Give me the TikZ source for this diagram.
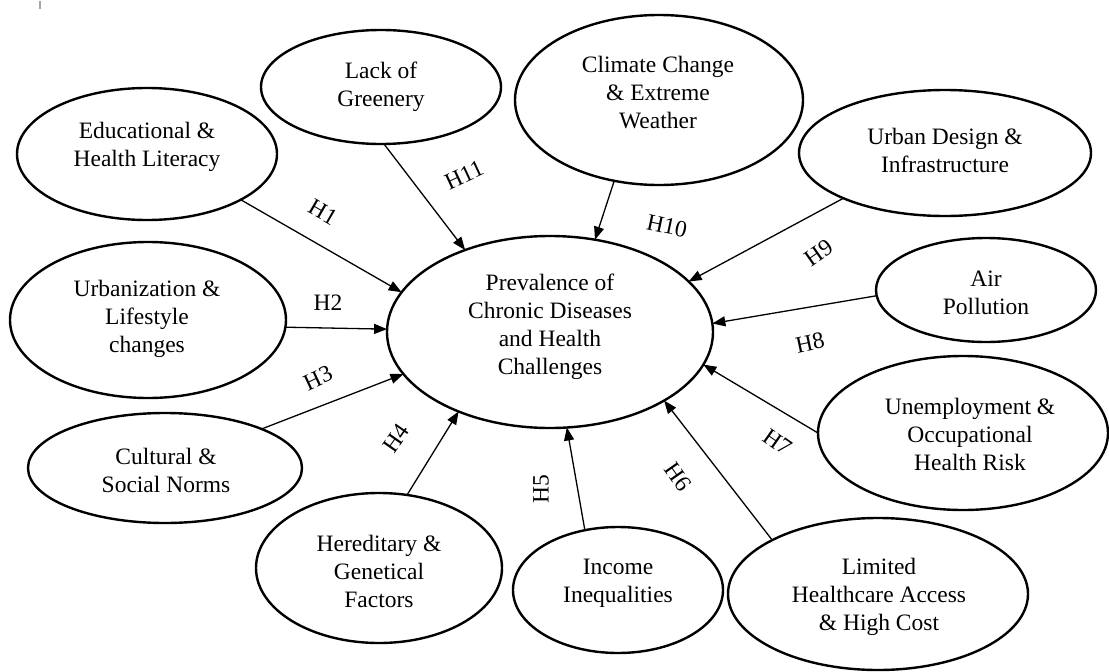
\documentclass[tikz,border=0pt]{standalone}
\usepackage{fontspec}
\setmainfont{Liberation Serif}
\usetikzlibrary{shapes.geometric,arrows.meta}
\newcommand{\mysz}{\fontsize{23.5}{28}\selectfont}
\begin{document}
\begin{tikzpicture}[x=1pt,y=-1pt,
  ell/.style={draw, ellipse, line width=2.4pt, inner sep=0pt, outer sep=0pt},
  txt/.style={align=center, font=\mysz, inner sep=0pt},
  arr/.style={line width=1.3pt, -{Triangle[length=13pt,width=10pt]}},
  hl/.style={font=\mysz, inner sep=0pt}]
\useasboundingbox (0,0) rectangle (1109,672);
\fill[white] (0,0) rectangle (1109,672);
\draw[gray!70, line width=1.2pt] (40,1) -- (40,9);

% ellipses
\node[ell, minimum width=260, minimum height=132] (edu) at (147,154) {};
\node[ell, minimum width=240, minimum height=114] (lack) at (381,87) {};
\node[ell, minimum width=276, minimum height=156] (urb) at (148,320) {};
\node[ell, minimum width=274, minimum height=110] (cul) at (165,468) {};
\node[ell, minimum width=246, minimum height=150] (her) at (379,568) {};
\node[ell, minimum width=210, minimum height=126] (inc) at (618,590) {};
\node[ell, minimum width=300, minimum height=152] (lim) at (878,594) {};
\node[ell, minimum width=290, minimum height=154] (une) at (963,433) {};
\node[ell, minimum width=220, minimum height=104] (air) at (986,290) {};
\node[ell, minimum width=292, minimum height=126] (urd) at (945,153) {};
\node[ell, minimum width=288, minimum height=170] (cli) at (659,100) {};
\node[ell, minimum width=326, minimum height=192] (cen) at (550,332) {};

% texts
\node[txt] (tedu) at (147,147) {Educational \&\\Health Literacy};
\node[txt] (tlack) at (381,87) {Lack of\\Greenery};
\node[txt] (turb) at (147,319) {Urbanization \&\\Lifestyle\\changes};
\node[txt] (tcul) at (166,470) {Cultural \&\\Social Norms};
\node[txt] (ther) at (379,571) {Hereditary \&\\Genetical\\Factors};
\node[txt] (tinc) at (618,583) {Income\\Inequalities};
\node[txt] (tlim) at (879,597) {Limited\\Healthcare Access\\\& High Cost};
\node[txt] (tune) at (970,434) {Unemployment \&\\Occupational\\Health Risk};
\node[txt] (tair) at (986,293) {Air\\Pollution};
\node[txt] (turd) at (945,150) {Urban Design \&\\Infrastructure};
\node[txt] (tcli) at (658,93) {Climate Change\\\& Extreme\\Weather};
\node[txt] (tcen) at (550,327) {Prevalence of\\Chronic Diseases\\and Health\\Challenges};

% arrows
\draw[arr] (edu.-26.6) -- (cen.165.3);
\draw[arr] (lack.-87) -- (cen.136.3);
\draw[arr] (cli.-119.5) -- (cen.64.4);
\draw[arr] (urd.204.3) -- (cen.20.8);
\draw[arr] (air.183) -- (cen.3.5);
\draw[arr] (une.180) -- (cen.-12.4);
\draw[arr] (lim.153.4) -- (cen.-31);
\draw[arr] (inc.119.4) -- (cen.-80.9);
\draw[arr] (her.69.7) -- (cen.221.1);
\draw[arr] (cul.22) -- (cen.196.4);
\draw[arr] (urb.-3.7) -- (cen.179.3);

% labels
\node[hl, rotate=-30] (h1) at (323,212) {H1};
\node[hl, rotate=25] (h11) at (464,175) {H11};
\node[hl, rotate=-12] (h10) at (667,226) {H10};
\node[hl, rotate=35] (h9) at (819,253) {H9};
\node[hl, rotate=12] (h8) at (810,343) {H8};
\node[hl, rotate=-35] (h7) at (778,442) {H7};
\node[hl, rotate=-55] (h6) at (678,477) {H6};
\node[hl, rotate=90] (h5) at (541,489) {H5};
\node[hl, rotate=55] (h4) at (396,438) {H4};
\node[hl, rotate=25] (h3) at (318,378) {H3};
\node[hl] (h2) at (328,303) {H2};
\end{tikzpicture}
\end{document}
